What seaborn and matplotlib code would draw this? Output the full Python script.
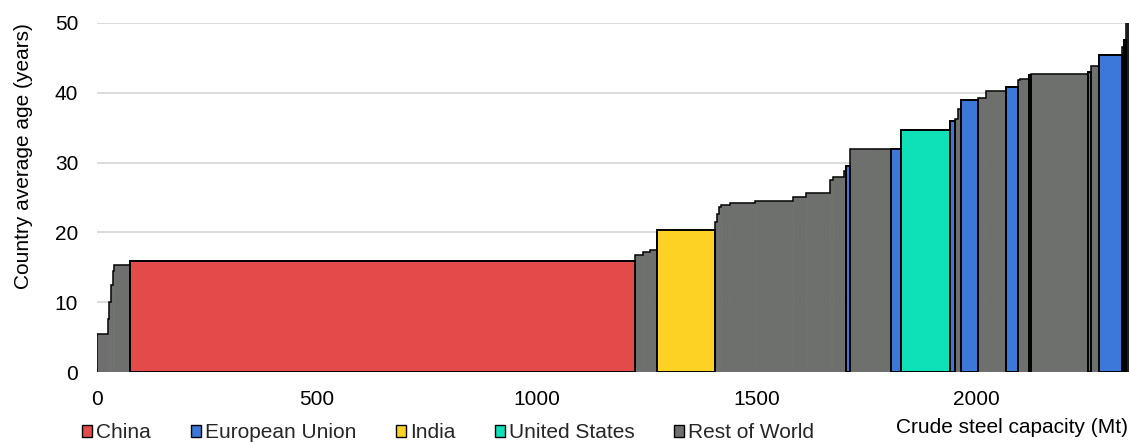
import numpy as np
import pandas as pd
import matplotlib
matplotlib.use("Agg")
import matplotlib.pyplot as plt
from matplotlib.patches import Patch
import seaborn as sns

# ---- data ----
regions = ["Rest of World", "Rest of World", "Rest of World", "Rest of World", "Rest of World",
           "Rest of World", "China",
           "Rest of World", "Rest of World", "Rest of World", "India",
           "Rest of World", "Rest of World", "Rest of World",
           "Rest of World", "Rest of World", "Rest of World", "Rest of World", "Rest of World",
           "Rest of World", "Rest of World",
           "Rest of World", "European Union", "Rest of World", "European Union", "United States",
           "European Union", "Rest of World", "Rest of World", "European Union",
           "Rest of World", "Rest of World", "European Union", "Rest of World", "Rest of World",
           "European Union", "Rest of World", "European Union", "Rest of World", "European Union",
           "Rest of World", "European Union", "Rest of World"]
capacity = [25.0, 3.4, 3.4, 3.5, 4.5,
            35.3, 1150.0,
            17.0, 16.0, 16.0, 132.0,
            4.0, 5.0, 4.0,
            21.0, 57.0, 86.0, 30.0, 54.0,
            7.0, 25.0,
            5.0, 10.0, 93.0, 22.0, 111.0,
            13.0, 6.0, 7.0, 38.0,
            18.0, 46.0, 27.0, 5.0, 20.0,
            5.0, 129.0, 7.0, 18.0, 53.0,
            4.0, 5.0, 4.0]
age = [5.5, 7.6, 10.0, 12.5, 14.5,
       15.3, 15.9,
       16.8, 17.2, 17.5, 20.3,
       21.5, 22.7, 23.7,
       23.9, 24.2, 24.5, 25.1, 25.7,
       27.5, 27.9,
       28.8, 29.5, 32.0, 32.0, 34.7,
       35.9, 36.2, 37.7, 39.0,
       39.2, 40.3, 40.9, 41.8, 42.0,
       42.5, 42.7, 43.0, 43.9, 45.4,
       46.6, 47.5, 52.0]

legend_order = ["China", "European Union", "India", "United States", "Rest of World"]
colors = ["#E34B4A", "#3C78D8", "#FDD225", "#0EE0B8", "#6E706E"]

x_ticks = [0, 500, 1000, 1500, 2000]
y_ticks = [0, 10, 20, 30, 40, 50]

# ---- build table ----
edges = np.concatenate([[0.0], np.cumsum(capacity)])
df = pd.DataFrame({"region": regions, "left": edges[:-1], "width": capacity, "age": age})
palette = dict(zip(legend_order, colors))

# ---- style ----
sns.set_theme(style="whitegrid")
plt.rcParams["font.family"] = ["Liberation Sans", "DejaVu Sans"]
FS = 15

fig = plt.figure(figsize=(11.29, 4.42), dpi=100)
ax = fig.add_axes([97 / 1129, 70 / 442, 1032 / 1129, 349 / 442])

row = df[df["region"] == "Rest of World"]
oth = df[df["region"] != "Rest of World"]
# rest-of-world segments: no internal outlines
ax.bar(row["left"], row["age"], width=row["width"], align="edge",
       color=palette["Rest of World"], edgecolor=palette["Rest of World"], linewidth=0.5,
       zorder=2)
# outline of the whole profile
ax.stairs(df["age"], edges, baseline=0, fill=False, color="black", linewidth=1.1, zorder=3)
# named regions with full black outline
ax.bar(oth["left"], oth["age"], width=oth["width"], align="edge",
       color=[palette[r] for r in oth["region"]], edgecolor="black", linewidth=1.4,
       zorder=4)

ax.set_xlim(0, 2348)
ax.set_ylim(0, 50)
ax.set_xticks(x_ticks)
ax.set_yticks(y_ticks)
ax.tick_params(axis="both", length=0, labelsize=FS, colors="black")
ax.tick_params(axis="x", pad=13)
ax.tick_params(axis="y", pad=13.5)
ax.grid(axis="x", visible=False)
ax.grid(axis="y", color="#D9D9D9", linewidth=1.3)
ax.set_axisbelow(True)
sns.despine(ax=ax, left=True, bottom=True)
ax.set_facecolor("white")

ax.set_ylabel("Country average age (years)", fontsize=FS, color="black")
ax.yaxis.set_label_coords(-0.062, 0.62)
ax.set_xlabel("Crude steel capacity (Mt)", fontsize=FS, color="black")
ax.xaxis.set_label_coords(0.887, -0.133)

handles = [Patch(facecolor=palette[r], edgecolor="black", linewidth=1.0, label=r)
           for r in legend_order]
fig.legend(handles=handles, loc="center left", bbox_to_anchor=(82 / 1129, 1 - 433 / 442),
           ncol=5, frameon=False, fontsize=FS, handlelength=0.48, handleheight=0.5,
           handletextpad=0.2, columnspacing=1.9, borderpad=0, borderaxespad=0)

fig.savefig("out.png", dpi=100, facecolor="white")
